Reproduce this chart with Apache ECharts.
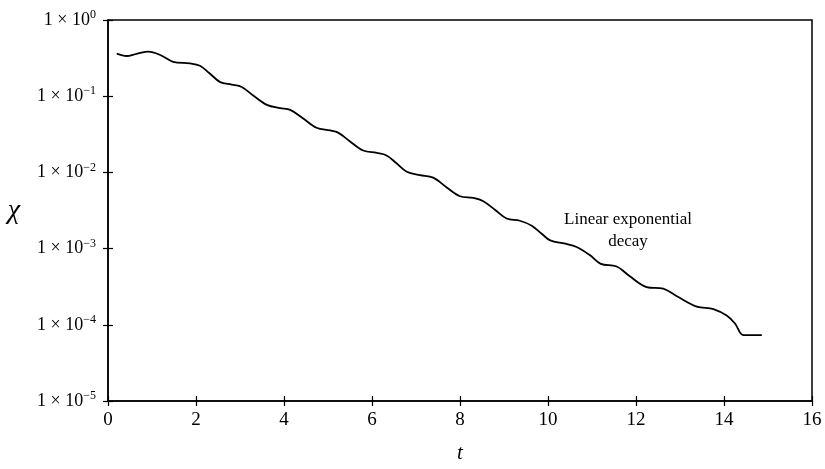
<!DOCTYPE html>
<html>
<head>
<meta charset="utf-8">
<script src="https://cdn.jsdelivr.net/npm/echarts@6/dist/echarts.min.js"></script>
<style>html,body{margin:0;padding:0;background:#fff}#c{width:825px;height:469px}</style>
</head>
<body>
<div id="c"></div>
<script>
// time values t
var tValues = [0.2,0.42,0.65,0.92,1.2,1.48,1.86,2.09,2.3,2.55,2.81,3.04,3.3,3.61,3.91,4.14,4.42,4.74,5.05,5.23,5.5,5.8,6.11,6.33,6.55,6.79,7.09,7.39,7.7,8.0,8.3,8.53,8.8,9.06,9.36,9.63,9.85,10.05,10.39,10.65,10.95,11.2,11.56,11.86,12.24,12.62,12.92,13.38,13.76,14.06,14.25,14.44,14.86];
// chi values
var chiValues = [0.362,0.337,0.360,0.385,0.345,0.283,0.270,0.251,0.202,0.153,0.142,0.132,0.102,0.0769,0.0697,0.0663,0.0519,0.0386,0.0356,0.0333,0.0255,0.0194,0.0180,0.0167,0.0133,0.0102,0.00923,0.00853,0.00634,0.00486,0.00462,0.00419,0.00321,0.00248,0.00232,0.00200,0.00158,0.00128,0.00116,0.00105,0.000822,0.000631,0.000582,0.000433,0.000313,0.000298,0.000239,0.000173,0.000161,0.000132,0.000104,0.0000733,0.0000733];
var xTicks = [0,2,4,6,8,10,12,14,16];
var yExponents = [0,-1,-2,-3,-4,-5];
var annotationLines = ['Linear exponential','decay'];
var xName = 't', yName = 'χ';

var data = tValues.map(function(t,i){return [t, chiValues[i]];});
var serif = '"Liberation Serif","DejaVu Serif",serif';
var chart = echarts.init(document.getElementById('c'), null, {renderer:'canvas'});
function yFmt(v){
  var e = Math.round(Math.log(v)/Math.LN10);
  var s = e < 0 ? '−' + (-e) : '' + e;
  return '{b|1 × 10}{s|' + s + '}';
}
var axisLine = {show:true, lineStyle:{color:'#000', width:1.5}};
var option = {
  backgroundColor:'#fff',
  animation:false,
  grid:{left:108, right:13, top:20, bottom:60, show:true, borderColor:'#000', borderWidth:1.5, backgroundColor:'transparent'},
  xAxis:[{
    type:'value', min:xTicks[0], max:xTicks[xTicks.length-1], interval:2,
    name:xName, nameLocation:'middle', nameGap:42,
    nameTextStyle:{fontFamily:serif, fontStyle:'italic', fontSize:21, color:'#000'},
    axisLine:axisLine, axisTick:{show:true, length:5, lineStyle:{color:'#000', width:1.2}},
    axisLabel:{fontFamily:serif, fontSize:19, color:'#000', margin:10},
    splitLine:{show:false}
  },{
    type:'value', min:xTicks[0], max:xTicks[xTicks.length-1], interval:2, position:'bottom',
    axisLine:{show:false}, axisTick:{show:true, inside:true, length:5, lineStyle:{color:'#000', width:1.2}},
    axisLabel:{show:false}, splitLine:{show:false}
  }],
  yAxis:[{
    type:'log', logBase:10, min:1e-5, max:1,
    name:yName, nameLocation:'middle', nameRotate:0, nameGap:88,
    nameTextStyle:{fontFamily:serif, fontStyle:'italic', fontSize:28, color:'#000'},
    axisLine:axisLine, axisTick:{show:true, length:5, lineStyle:{color:'#000', width:1.2}},
    axisLabel:{formatter:yFmt, margin:12, rich:{
      b:{fontFamily:serif, fontSize:18, color:'#000'},
      s:{fontFamily:serif, fontSize:12, color:'#000', verticalAlign:'top', padding:[0,0,10,0]}
    }},
    splitLine:{show:false}
  },{
    type:'log', logBase:10, min:1e-5, max:1, position:'left',
    axisLine:{show:false}, axisTick:{show:true, inside:true, length:5, lineStyle:{color:'#000', width:1.2}},
    axisLabel:{show:false}, splitLine:{show:false}
  }],
  series:[{
    type:'line', data:data, smooth:0.35, showSymbol:false,
    lineStyle:{color:'#000', width:1.8}
  }],
  graphic:[{
    type:'text', left:562, top:209,
    style:{text:annotationLines.join('\n'), font:'17px ' + serif, fill:'#000', textAlign:'center', lineHeight:22, width:132, align:'center'}
  }]
};
chart.setOption(option);
</script>
</body>
</html>
